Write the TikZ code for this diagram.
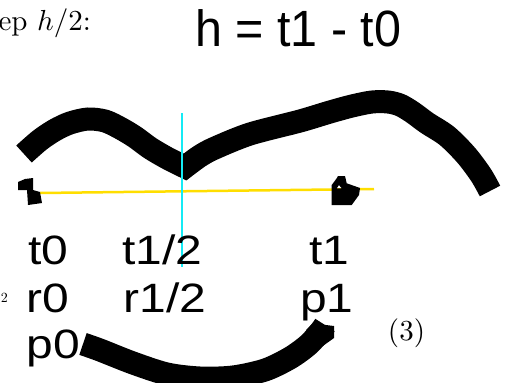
\documentclass[tikz,border=0pt]{standalone}
\usepackage{fontspec}
\newfontfamily\lbsans{Liberation Sans}
\definecolor{ylw}{RGB}{255,222,0}
\definecolor{cyn}{RGB}{20,235,245}
\tikzset{
  brush/.style={draw=black, line width=23pt, line join=miter, line cap=butt},
  lbl/.style={anchor=base west, inner sep=0pt, outer sep=0pt, font=\lbsans\fontsize{41}{41}\selectfont},
  serif/.style={anchor=base west, inner sep=0pt, outer sep=0pt, font=\fontsize{10}{12}\selectfont},
  blob/.style={fill=black, draw=none}
}
\newcommand{\wideT}[1]{\scalebox{1.17}[1]{#1}}
\newcommand{\bigS}[1]{\scalebox{2.9}{#1}}
\begin{document}
\begin{tikzpicture}[x=1pt,y=-1pt]
\useasboundingbox (0,0) rectangle (509,383);
\clip (0,0) rectangle (509,383);
% serif texts
\node[serif] (step) at (-1.5,30) {\bigS{ep $h/2$:}};
\node[serif, anchor=base] (eqn) at (406.5,340.5) {\bigS{(3)}};
\node[serif] (sub) at (1,302) {\scalebox{1.4}{2}};
% title
\node[anchor=base west, inner sep=0pt, font=\lbsans\fontsize{51}{51}\selectfont] (title) at (195,46.7) {\scalebox{0.95}[1]{h = t1 - t0}};
% yellow line and marks
\coordinate (yl) at (40,193);
\coordinate (yr) at (374,189);
\draw[ylw, line width=2.5pt] (yl) -- (yr);
\fill[blob] (18,182) -- (25,179) -- (33,178) -- (33,190) -- (40,192) -- (42,203) -- (28,205) -- (27,190) -- (18,190) -- cycle;
\fill[blob, even odd rule] (331.7,185) -- (336.7,178.3) -- (338,176) -- (345,176) -- (346.7,183.3) -- (360,188) -- (359,195) -- (351.7,205) -- (331.7,205) -- cycle
  (336.7,188.3) -- (339,185) -- (341.7,188.3) -- cycle;
% top brush stroke
\draw[brush] plot[smooth] coordinates {(24,154) (40,140) (55,130) (70,123) (88,119) (105,121) (120,128) (135,137) (150,148) (167,158) (185,167)}
  -- plot[smooth] coordinates {(185,167) (200,156) (215,148) (250,134) (300,121) (330,112) (352,106) (372,102) (388,102) (400,105) (412,112) (427,123) (447,136) (466,155) (481,175) (490,191)};
% bottom brush stroke
\draw[brush] plot[smooth] coordinates {(83,344) (100,350) (133,363) (167,374) (200,378) (233,377) (265,370) (290,358) (308,345) (320,332) (325,325)};
\fill[blob] (306,330) -- (316,320) -- (318,324) -- (334,326) -- (334,338) -- (320,348) -- cycle;
% cyan line
\coordinate (ct) at (182,113);
\coordinate (cb) at (182,267);
\draw[cyn, line width=1.7pt] (ct) -- (cb);
% labels
\node[lbl] (t0) at (28.5,264) {\wideT{t0}};
\node[lbl] (th) at (122,264) {\wideT{t1/2}};
\node[lbl] (t1) at (309,264) {\wideT{t1}};
\node[lbl] (r0) at (26.7,312) {\wideT{r0}};
\node[lbl] (rh) at (123.7,312) {\wideT{r1/2}};
\node[lbl] (p1) at (300,312) {\wideT{p1}};
\node[lbl] (p0) at (27,358) {\wideT{p0}};
\end{tikzpicture}
\end{document}
